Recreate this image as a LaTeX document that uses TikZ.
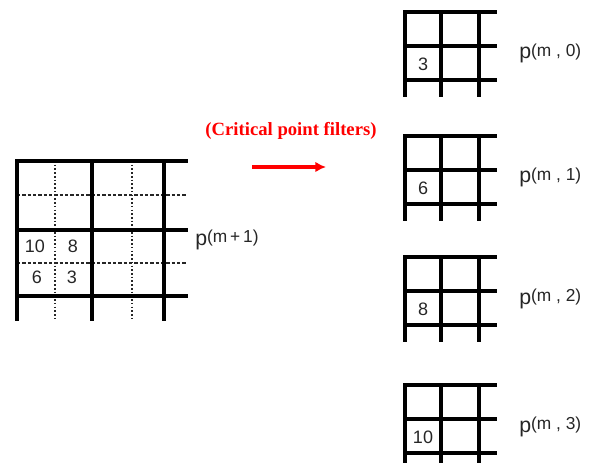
\documentclass[tikz,border=0pt]{standalone}
\usepackage{fontspec}
\setmainfont{Liberation Serif}
\setsansfont{Liberation Sans}
\usetikzlibrary{arrows.meta,positioning}

\tikzset{
  gridline/.style={line width=2.3pt, black},
  halfline/.style={line width=1pt, black!85, dash pattern=on 2.4pt off 1.6pt},
  dotline/.style={line width=1pt, black!85, dash pattern=on 1.2pt off 1.6pt},
  cellnum/.style={font=\sffamily\fontsize{13.5}{15}\selectfont, text=black!85, anchor=base, inner sep=0pt},
  levlabel/.style={font=\sffamily\fontsize{16}{18}\selectfont, text=black!85, anchor=base west, inner sep=0pt},
}
\newcommand{\lev}[1]{p\raisebox{2.2pt}{\fontsize{13}{15}\selectfont #1}}

\begin{document}
\begin{tikzpicture}[x=0.75pt, y=-0.75pt]
    \useasboundingbox (0,0) rectangle (599,463);

    % finer level m+1
    \foreach \y in {195,263}
      \draw[halfline] (17,\y) -- (186,\y);
    \foreach \x in {55,132}
      \draw[dotline] (\x,161) -- (\x,321);
    \foreach \y in {161,230,296}
      \draw[gridline] (15,\y) -- (188,\y);
    \foreach \x in {17,92,164}
      \draw[gridline] (\x,160) -- (\x,321);
    \node[cellnum] (fa) at (35,252.5) {10};
    \node[cellnum] (fb) at (73,252.5) {8};
    \node[cellnum] (fc) at (37,283.5) {6};
    \node[cellnum] (fd) at (72,283.5) {3};
    \node[levlabel] (fine) at (195,245) {\lev{(m\,+\,1)}};

    % filters
    \node[font=\bfseries\fontsize{14}{16}\selectfont, text=red, inner sep=0pt] (title) at (291,131) {(Critical point filters)};
    \coordinate (arrS) at (252,167);
    \coordinate (arrE) at (326,167);
    \draw[red, line width=3pt, -{Latex[length=8pt,width=8pt]}] (arrS) -- (arrE);

    % coarser level m, four outputs
    \foreach \t/\v/\k in {12/3/0, 136/6/1, 257/8/2, 385/10/3} {
      \foreach \d in {0,34,68}
        \draw[gridline] (403,\t+\d) -- (497,\t+\d);
      \foreach \x in {405,441,479}
        \draw[gridline] (\x,\t-1) -- (\x,\t+85);
      \node[cellnum] (num\k) at (423,\t+58.5) {\v};
      \node[levlabel] (crs\k) at (519,\t+47) {\lev{(m\ ,\ \k)}};
    }
  \end{tikzpicture}
\end{document}
